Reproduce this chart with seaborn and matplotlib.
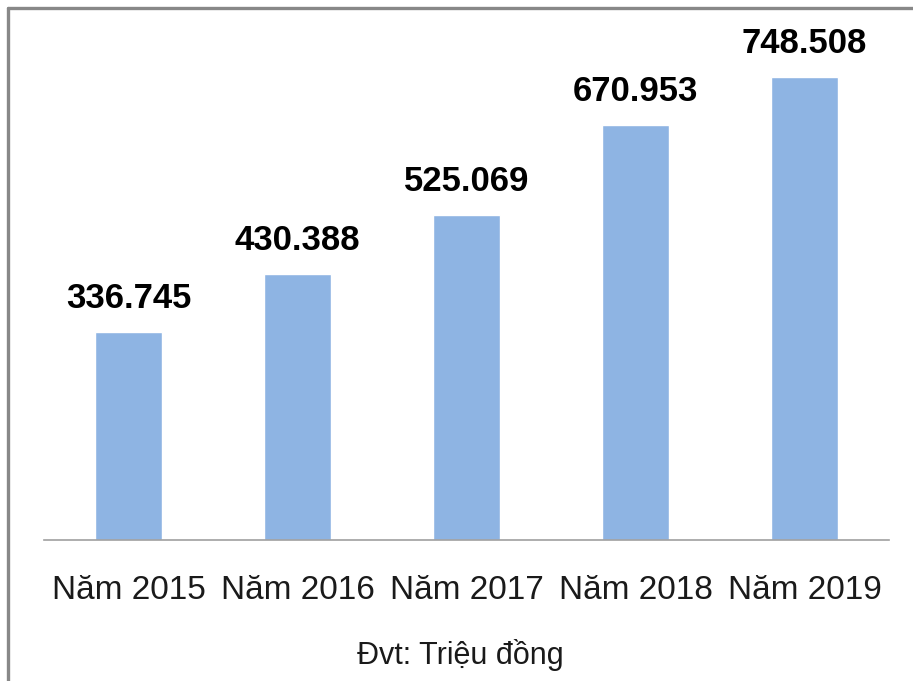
import matplotlib
matplotlib.use("Agg")
import matplotlib.pyplot as plt
import numpy as np
import pandas as pd
import seaborn as sns
from matplotlib.lines import Line2D

years = ["Năm 2015", "Năm 2016", "Năm 2017", "Năm 2018", "Năm 2019"]
values = [336.745, 430.388, 525.069, 670.953, 748.508]
labels = ["336.745", "430.388", "525.069", "670.953", "748.508"]

sns.set_style("white")
plt.rcParams['font.family'] = ['Liberation Sans', 'DejaVu Sans']

df = pd.DataFrame({'year': years, 'value': values})

fig = plt.figure(figsize=(9.13, 6.81), dpi=100)
ax = fig.add_axes([0.0482, 0.207, 0.9255, 0.727])

sns.barplot(data=df, x='year', y='value', color='#8EB4E3', saturation=1,
            width=0.40, ax=ax)

for i, (v, lab) in enumerate(zip(values, labels)):
    ax.text(i, v + 17 / 0.6186, lab, ha='center', va='bottom',
            fontsize=25, fontweight='bold', color='#000000')

ax.set_ylim(0, 800)
ax.set_xlim(-0.5, 4.5)
ax.set_yticks([])
ax.set_xlabel('')
ax.set_ylabel('')
for s in ['top', 'right', 'left']:
    ax.spines[s].set_visible(False)
ax.spines['bottom'].set_color('#A0A0A0')
ax.spines['bottom'].set_linewidth(1.2)
ax.tick_params(axis='x', length=0, pad=25, labelsize=24, labelcolor='#1a1a1a')

fig.text(0.504, 0.038, "Đvt: Triệu đồng", ha='center', va='center',
         fontsize=22, color='#1a1a1a')

# outer frame (only top and left visible in the crop)
fig.add_artist(Line2D([7.5 / 913, 1], [1 - 7.5 / 681, 1 - 7.5 / 681],
                      transform=fig.transFigure, color='#888888', lw=2.4))
fig.add_artist(Line2D([7.5 / 913, 7.5 / 913], [0, 1 - 7.5 / 681],
                      transform=fig.transFigure, color='#888888', lw=2.4))

fig.savefig('out.png', dpi=100, facecolor='white')
